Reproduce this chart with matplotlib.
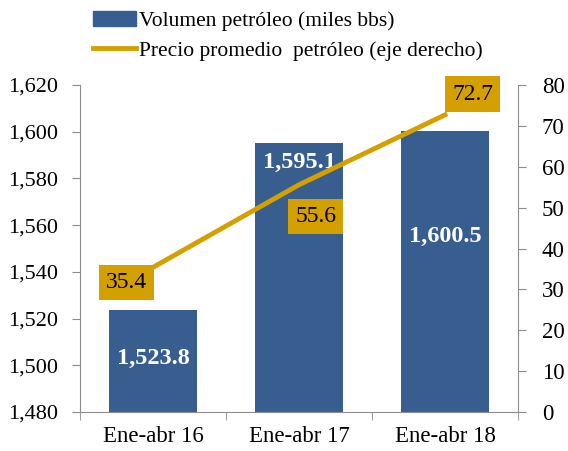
import matplotlib.pyplot as plt
from matplotlib.lines import Line2D
from matplotlib.patches import Patch

categorias = ["Ene-abr 16", "Ene-abr 17", "Ene-abr 18"]
volumen = [1523.8, 1595.1, 1600.5]
precio = [35.4, 55.6, 72.7]

azul = "#375E8F"
oro = "#D4A000"
gris = "#8C8C8C"

plt.rcParams['font.family'] = ['Liberation Serif', 'DejaVu Serif']
plt.rcParams['font.size'] = 15

fig = plt.figure(figsize=(5.68, 4.51), dpi=100)
ax = fig.add_axes([0.141, 0.0865, 0.771, 0.725])
x = list(range(len(categorias)))

ax.bar(x, volumen, width=0.6, color=azul, zorder=2)
ax.set_ylim(1480, 1620)
ax.set_yticks(range(1480, 1621, 20))
ax.set_yticklabels([f"{v:,}" for v in range(1480, 1621, 20)], fontsize=16)
ax.set_xlim(-0.5, 2.5)
ax.set_xticks(x)
ax.set_xticklabels(categorias, fontsize=16.5)
ax.set_xticks([-0.5, 0.5, 1.5, 2.5], minor=True)
ax.tick_params(axis='x', which='major', length=0, pad=10)
ax.tick_params(axis='x', which='minor', length=6, color=gris)
ax.tick_params(axis='y', length=6, color=gris, pad=10)
for s in ['top', 'right']:
    ax.spines[s].set_visible(False)
for s in ['left', 'bottom']:
    ax.spines[s].set_color(gris)

# etiquetas de barras (la linea pasa por encima)
desp_barra = [-35, -14, -76]
for xi, v, d in zip(x, volumen, desp_barra):
    ax.annotate(f"{v:,.1f}", (xi, v), xytext=(0, d),
                textcoords='offset points', ha='center', va='center',
                color='white', fontweight='bold', fontsize=17.5, zorder=5)

ax2 = ax.twinx()
ax2.plot(x, precio, color=oro, lw=3.5, zorder=3)
ax2.set_ylim(0, 80)
ax2.set_yticks(range(0, 81, 10))
ax2.set_yticklabels([str(v) for v in range(0, 81, 10)], fontsize=16.5)
ax2.tick_params(axis='y', length=6, color=gris, pad=11)
for s in ['top', 'left', 'bottom']:
    ax2.spines[s].set_visible(False)
ax2.spines['right'].set_color(gris)

desp_linea = [(-19, -11), (12, -23), (20, 15)]
for xi, v, d in zip(x, precio, desp_linea):
    ax2.annotate(f"{v:.1f}", (xi, v), xytext=d, textcoords='offset points',
                 ha='center', va='center', fontsize=17,
                 bbox=dict(boxstyle='square,pad=0.3', fc=oro, ec='none'))

handles = [Patch(color=azul), Line2D([0], [0], color=oro, lw=3.5)]
labels = ["Volumen petróleo (miles bbs)", "Precio promedio  petróleo (eje derecho)"]
fig.legend(handles, labels, loc='upper left', bbox_to_anchor=(0.145, 1.0),
           frameon=False, ncol=1, handlelength=2.0, handletextpad=0.15,
           labelspacing=0.45, borderaxespad=0.1, fontsize=15.5)

fig.savefig("out.png", dpi=100)
